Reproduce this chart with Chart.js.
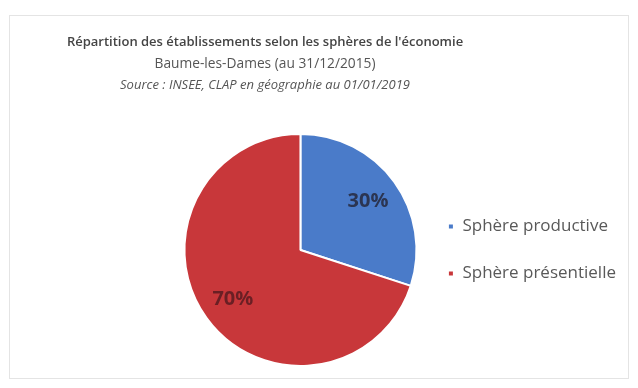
<!DOCTYPE html>
<html>
<head>
<meta charset="utf-8">
<script src="https://cdn.jsdelivr.net/npm/chart.js@4"></script>
<style>
  html, body { margin: 0; padding: 0; background: #fff; }
  #wrap { position: relative; width: 638px; height: 388px; }
  #frame { position: absolute; left: 9px; top: 15px; width: 618px; height: 362px; border: 1px solid #e4e4e4; }
  canvas { position: absolute; left: 0; top: 0; }
</style>
</head>
<body>
<div id="wrap">
  <div id="frame"></div>
  <canvas id="pieChart" width="638" height="388"></canvas>
</div>
<script>
// data
const categories = ['Sphère productive', 'Sphère présentielle'];
const shares = [30, 70];
const sliceColors = ['#4a7bc9', '#c8373a'];
const labelColors = ['#2b3552', '#6a1f24'];

const titleLines = [
  { text: "Répartition des établissements selon les sphères de l'économie", font: '600 13px "Open Sans"', color: '#444', y: 42 },
  { text: 'Baume-les-Dames (au 31/12/2015)', font: '13.75px "Open Sans"', color: '#555', y: 64 },
  { text: 'Source : INSEE, CLAP en géographie au 01/01/2019', font: 'italic 13px "Open Sans"', color: '#555', y: 85 }
];

// titles centred a bit left of the frame middle, like the original
const titlePlugin = {
  id: 'titles',
  afterDraw(chart) {
    const ctx = chart.ctx;
    ctx.save();
    ctx.textAlign = 'center';
    ctx.textBaseline = 'middle';
    titleLines.forEach(l => {
      ctx.font = l.font;
      ctx.fillStyle = l.color;
      ctx.fillText(l.text, 265, l.y);
    });
    ctx.restore();
  }
};

// percent labels inside the slices
const pctPlugin = {
  id: 'pct',
  afterDatasetsDraw(chart) {
    const ctx = chart.ctx;
    const meta = chart.getDatasetMeta(0);
    ctx.save();
    ctx.font = 'bold 20px "Open Sans"';
    ctx.textAlign = 'center';
    ctx.textBaseline = 'middle';
    meta.data.forEach((arc, i) => {
      const mid = (arc.startAngle + arc.endAngle) / 2;
      const r = arc.outerRadius * 0.72;
      ctx.fillStyle = labelColors[i];
      ctx.fillText(shares[i] + '%', arc.x + Math.cos(mid) * r, arc.y + Math.sin(mid) * r);
    });
    ctx.restore();
  }
};

new Chart(document.getElementById('pieChart').getContext('2d'), {
  type: 'pie',
  data: {
    labels: categories,
    datasets: [{
      data: shares,
      backgroundColor: sliceColors,
      borderColor: '#fff',
      borderWidth: 2
    }]
  },
  options: {
    responsive: false,
    animation: false,
    layout: { padding: { left: 183, top: 133, bottom: 21, right: 12 } },
    plugins: {
      tooltip: { enabled: false },
      legend: {
        position: 'right',
        labels: {
          boxWidth: 6,
          boxHeight: 6,
          padding: 30,
          color: '#595959',
          font: { family: '"Open Sans"', size: 17 }
        }
      }
    }
  },
  plugins: [titlePlugin, pctPlugin]
});
</script>
</body>
</html>
